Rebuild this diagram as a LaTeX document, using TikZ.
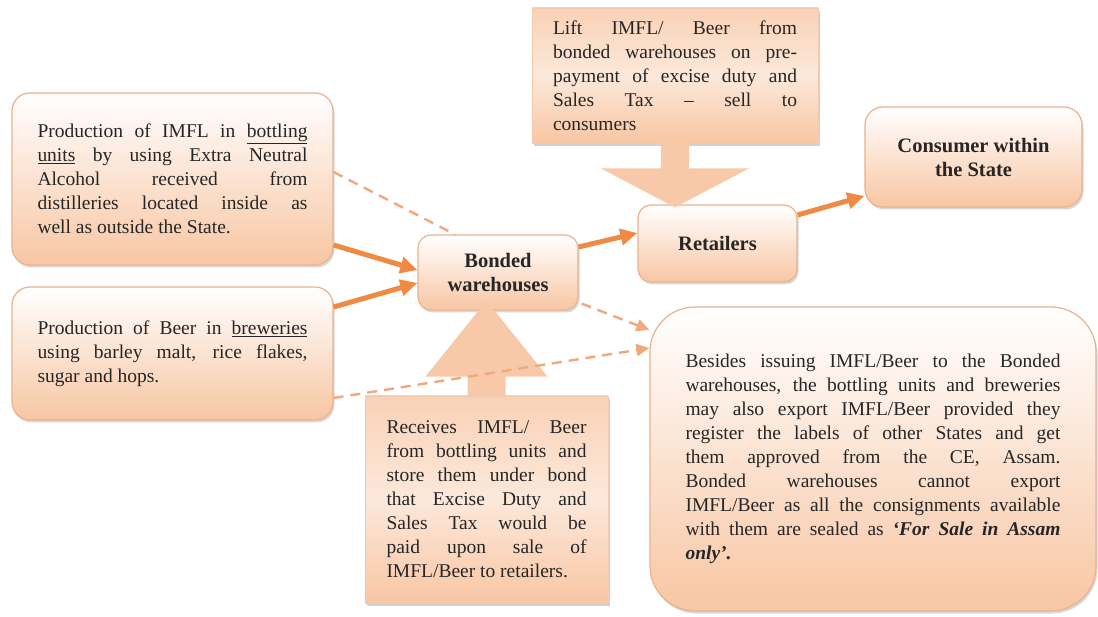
\documentclass[tikz,border=0pt]{standalone}
\usepackage{fontspec}
\setmainfont{Liberation Serif}
\usetikzlibrary{arrows.meta,calc,shadows}
\definecolor{peach}{HTML}{F8C6A3}
\definecolor{peachline}{HTML}{EAB28E}
\definecolor{flow}{HTML}{EF8A45}
\definecolor{flowdash}{HTML}{F0A87C}
\tolerance=10000
\hbadness=10000

\begin{document}
\begin{tikzpicture}[x=1pt, y=-1pt,
    txt/.style={text=black!85, font=\fontsize{19.5}{24}\selectfont, align=justify, inner sep=4pt},
    roundbox/.style={txt, draw=peachline, line width=1.2pt, rounded corners=18pt,
      top color=white, bottom color=peach,
      drop shadow={shadow xshift=1.5pt, shadow yshift=-2.5pt, opacity=.3}},
    headbox/.style={roundbox, rounded corners=13pt, font=\bfseries\fontsize{20.5}{24}\selectfont, align=center},
    notebox/.style={txt, draw=peachline!70, line width=.8pt,
      top color=peach!80, bottom color=peach, middle color=peach!40,
      drop shadow={shadow xshift=2pt, shadow yshift=-3pt, opacity=.35}},
    blockarrow/.style={fill=peach!95!white}]
\useasboundingbox (0,0) rectangle (1098,617);
\fill[white] (0,0) rectangle (1098,617);

\node[roundbox, text width=270pt, minimum width=321pt, minimum height=172pt] (1) at (172.5,179)
  {Production of IMFL in \underline{bottling}\linebreak \underline{units} by using Extra Neutral\linebreak Alcohol received from\linebreak distilleries located inside as\linebreak well as outside the State.};
\node[roundbox, text width=270pt, minimum width=321pt, minimum height=133pt] (2) at (172.5,353.5)
  {Production of Beer in \underline{breweries}\linebreak using barley malt, rice flakes,\linebreak sugar and hops.};
\node[headbox, minimum width=160pt, minimum height=75pt] (3) at (498,272.5) {Bonded\\warehouses};
\node[headbox, minimum width=159pt, minimum height=77pt] (4) at (717.5,243.5) {Retailers};
\node[headbox, rounded corners=18pt, minimum width=217pt, minimum height=100pt] (5) at (973.5,157) {Consumer within\\the State};
\node[notebox, text width=244pt, minimum width=286pt, minimum height=135pt] (6) at (675,75.5)
  {Lift IMFL/ Beer from\linebreak bonded warehouses on pre-\linebreak payment of excise duty and\linebreak Sales Tax – sell to\linebreak consumers};
\node[notebox, text width=200pt, minimum width=243pt, minimum height=207pt] (7) at (486.5,499.5)
  {Receives IMFL/ Beer\linebreak from bottling units and\linebreak store them under bond\linebreak that Excise Duty and\linebreak Sales Tax would be\linebreak paid upon sale of\linebreak IMFL/Beer to retailers.};
\node[roundbox, rounded corners=45pt, text width=375pt, minimum width=446pt, minimum height=304pt] (8) at (873,459)
  {Besides issuing IMFL/Beer to the Bonded\linebreak warehouses, the bottling units and breweries\linebreak may also export IMFL/Beer provided they\linebreak register the labels of other States and get\linebreak them approved from the CE, Assam.\linebreak Bonded warehouses cannot export\linebreak IMFL/Beer as all the consignments available\linebreak with them are sealed as \textbf{\itshape ‘For Sale in Assam\linebreak only’.}};

\fill[blockarrow] ($(6.south)+(-14,0)$) -- ++(0,25) -- ++(-60,0)
  -- ($(6.south |- 4.north)+(0,3)$) -- ($(6.south)+(74,25)$)
  -- ++(-60,0) -- ($(6.south)+(14,0)$) -- cycle;
\fill[blockarrow] ($(7.north)+(-19,0)$) -- ++(0,-19) -- ++(-42,0)
  -- ($(7.north |- 3.south)+(0,-10)$) -- ($(7.north)+(61,-19)$)
  -- ++(-42,0) -- ($(7.north)+(19,0)$) -- cycle;

\begin{scope}[draw=flowdash, line width=2.4pt, dash pattern=on 10pt off 7pt]
    \draw ([yshift=7pt]1.east) -- ([xshift=-43pt]3.north);
    \draw[-{Triangle[length=13pt,width=12pt]}] ([xshift=3pt,yshift=7pt]3.south east) -- ([yshift=129pt]8.west);
    \draw[-{Triangle[length=13pt,width=12pt]}] ([yshift=-44.5pt]2.east) -- ([yshift=111pt]8.west);
\end{scope}
\begin{scope}[draw=flow, line width=5pt, -{Triangle[length=17pt,width=16pt]}]
    \draw ([yshift=-66pt]1.east) -- ([yshift=2.5pt]3.west);
    \draw ([yshift=46.5pt]2.east) -- ([yshift=-10.5pt]3.west);
    \draw ([yshift=25.5pt]3.east) -- ([yshift=10.5pt]4.west);
    \draw ([yshift=28.5pt]4.east) -- ([yshift=-39pt]5.west);
\end{scope}
\end{tikzpicture}
\end{document}
